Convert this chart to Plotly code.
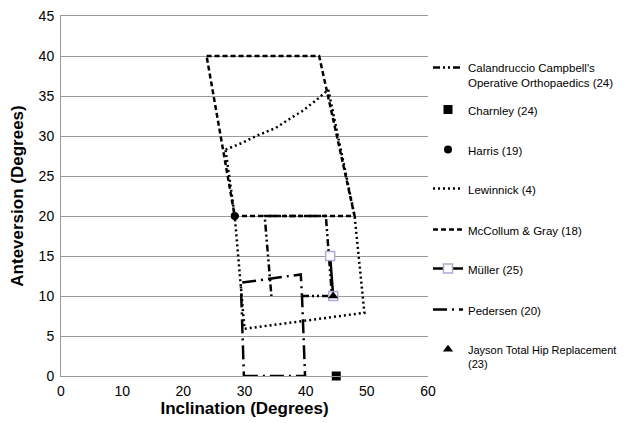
import plotly.graph_objects as go

# Data (Inclination x, Anteversion y)
calandruccio_x = [39.4, 44.3, 43.3, 33.3, 34.4]
calandruccio_y = [10, 10, 20, 20, 10]

charnley_x = [45]
charnley_y = [0]

harris_x = [28.4]
harris_y = [20]

lewinnick_x = [26.9, 29.5, 31.9, 35.1, 37.3, 39.4, 41.6, 43.7, 48.0, 49.6, 30.0, 28.4, 26.9]
lewinnick_y = [28.3, 29.1, 30.0, 31.0, 32.1, 33.1, 34.4, 35.8, 20.0, 7.9, 5.9, 20.0, 28.3]

mccollum_x = [23.8, 42.2, 48.0, 28.4, 23.8]
mccollum_y = [40, 40, 20, 20, 40]

muller_x = [44.0, 44.5]
muller_y = [15, 10]

pedersen_x = [29.9, 39.9, 39.4, 39.2, 29.4, 29.9]
pedersen_y = [0, 0, 10, 12.7, 11.65, 0]

jayson_x = [44.5]
jayson_y = [10]

x_ticks = [0, 10, 20, 30, 40, 50, 60]
y_ticks = [0, 5, 10, 15, 20, 25, 30, 35, 40, 45]

W, H = 629, 415
fig = go.Figure()

fig.add_trace(go.Scatter(
    x=calandruccio_x, y=calandruccio_y, mode="lines",
    name="Calandruccio Campbell's<br>Operative Orthopaedics (24)",
    line=dict(color="black", width=2.5, dash="7px,3px,2px,3px,2px,3px"),
    legend="legend"))
fig.add_trace(go.Scatter(
    x=charnley_x, y=charnley_y, mode="markers", name="Charnley (24)",
    marker=dict(symbol="square", size=9, color="black"), legend="legend2",
    cliponaxis=False))
fig.add_trace(go.Scatter(
    x=harris_x, y=harris_y, mode="markers", name="Harris (19)",
    marker=dict(symbol="circle", size=8, color="black"), legend="legend3",
    cliponaxis=False))
fig.add_trace(go.Scatter(
    x=lewinnick_x, y=lewinnick_y, mode="lines", name="Lewinnick (4)",
    line=dict(color="black", width=2.5, dash="2px,3px"),
    legend="legend4"))
fig.add_trace(go.Scatter(
    x=mccollum_x, y=mccollum_y, mode="lines", name="McCollum & Gray (18)",
    line=dict(color="black", width=2.5, dash="5px,3px"), legend="legend5"))
fig.add_trace(go.Scatter(
    x=muller_x, y=muller_y, mode="lines+markers", name="Müller (25)",
    line=dict(color="black", width=2.5),
    marker=dict(symbol="square", size=9, color="white",
                line=dict(color="#b3a6d3", width=1.5)),
    legend="legend6", cliponaxis=False))
fig.add_trace(go.Scatter(
    x=pedersen_x, y=pedersen_y, mode="lines", name="Pedersen (20)",
    line=dict(color="black", width=2.5, dash="14px,5px,2px,5px"), legend="legend7"))
fig.add_trace(go.Scatter(
    x=jayson_x, y=jayson_y, mode="markers",
    name="Jayson Total Hip Replacement<br>(23)",
    marker=dict(symbol="triangle-up", size=9, color="black"), legend="legend8",
    cliponaxis=False))

# legend entry first-line centres (screen px, page has 8px body margin)
legend_centres = [69, 111, 151, 190, 231, 270, 311, 351]
legend_fonts = [11.5, 11.5, 11.5, 11.5, 11.5, 11.5, 11.5, 11]
legend_keys = ["legend"] + ["legend%d" % i for i in range(2, 9)]
legend_layouts = {}
for key, cy, fs in zip(legend_keys, legend_centres, legend_fonts):
    top = cy - 15.4 - 8
    legend_layouts[key] = dict(
        xref="container", yref="container",
        x=420 / W, y=1 - top / H, xanchor="left", yanchor="top",
        font=dict(size=fs), itemwidth=30, valign="top",
        bgcolor="rgba(0,0,0,0)")

fig.update_layout(
    width=W, height=H,
    margin=dict(l=53, r=W - 53 - 369, t=8, b=H - 8 - 360),
    paper_bgcolor="white", plot_bgcolor="white",
    font=dict(family="Liberation Sans, Arial, sans-serif", color="black"),
    showlegend=True,
    **legend_layouts,
    xaxis=dict(range=[0, 60], tickvals=x_ticks, showgrid=False,
               showline=True, linecolor="#9a9a9a", linewidth=1, mirror=True,
               zeroline=False, ticks="", tickfont=dict(size=14),
               automargin=False, ticklabelstandoff=2,
               title=dict(text="<b>Inclination (Degrees)</b>", font=dict(size=17),
                          standoff=4)),
    yaxis=dict(range=[0, 45], tickvals=y_ticks, showgrid=True,
               gridcolor="#9a9a9a", gridwidth=1,
               showline=True, linecolor="#9a9a9a", linewidth=1, mirror=False,
               zeroline=False, ticks="", tickfont=dict(size=14),
               automargin=False, ticklabelstandoff=3,
               ticklabeloverflow="allow",
               title=dict(text="<b>Anteversion (Degrees)</b>", font=dict(size=17),
                          standoff=18)),
)

fig.write_html("out.html")
